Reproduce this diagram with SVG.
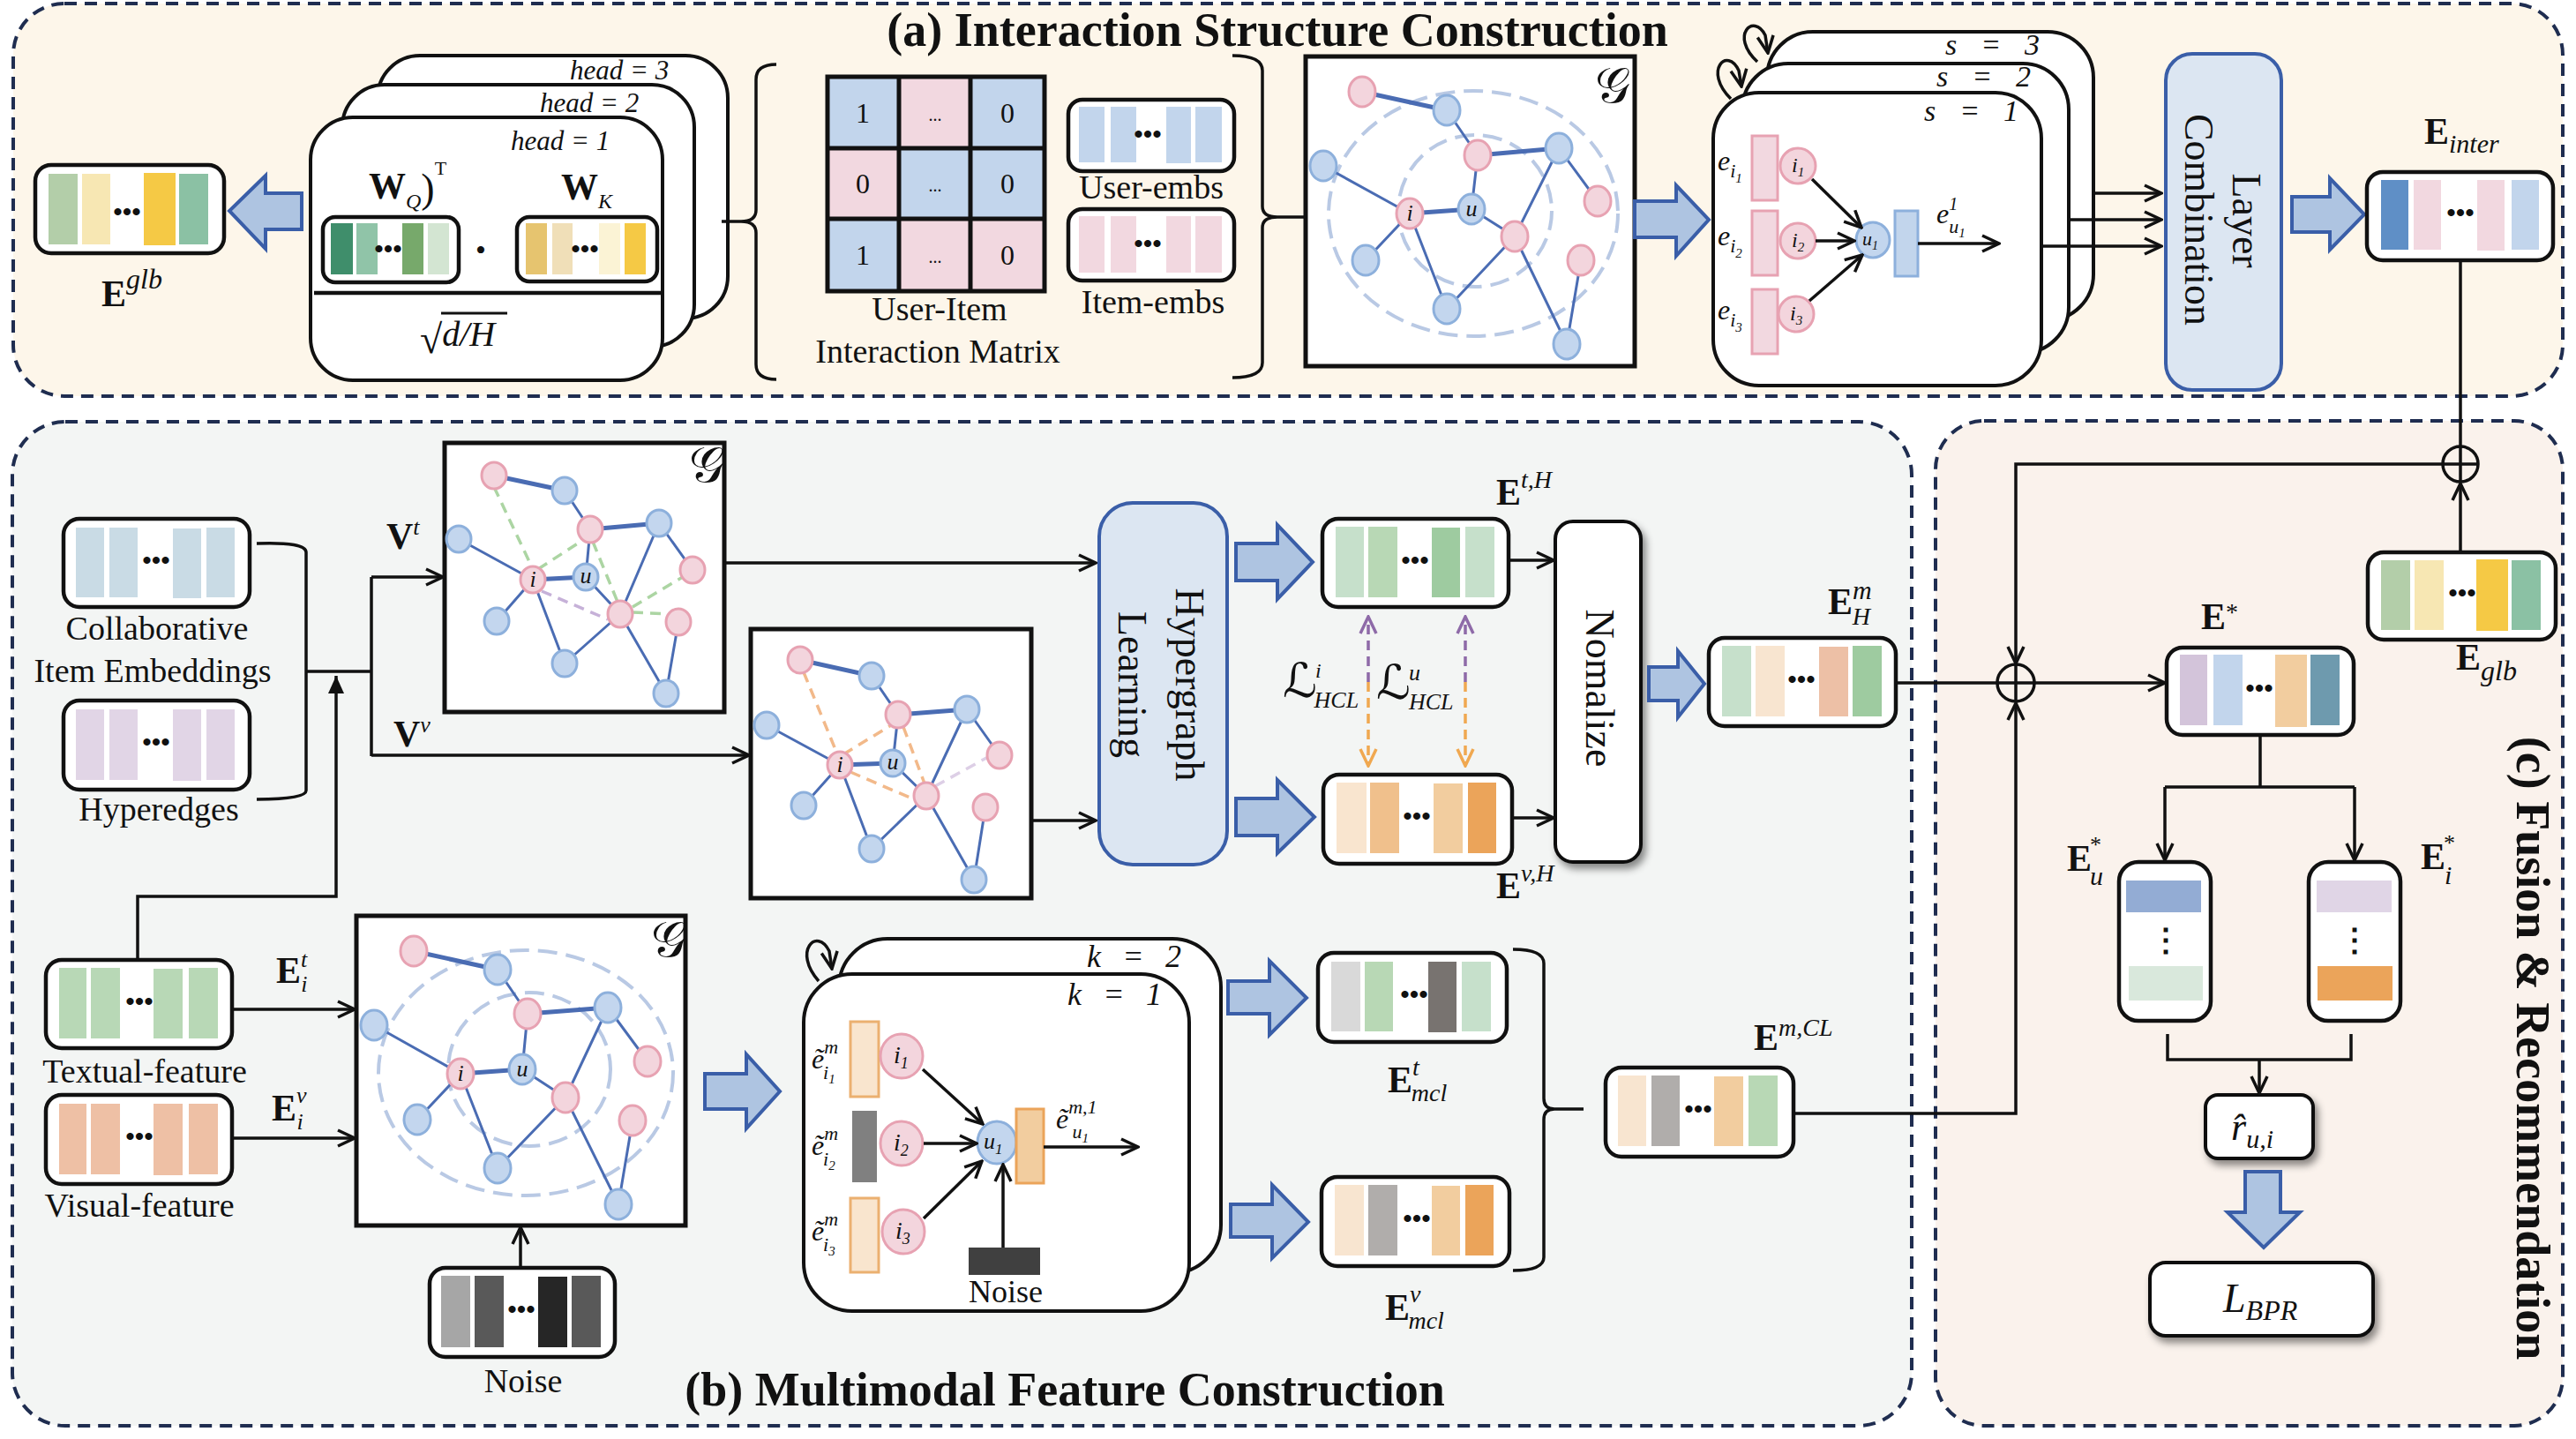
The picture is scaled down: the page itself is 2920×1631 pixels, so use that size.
<svg xmlns="http://www.w3.org/2000/svg" width="2920" height="1631" viewBox="0 0 2920 1631">
<style>
.pa{fill:#fdf6ea;stroke:#1f2d50;stroke-width:4;stroke-dasharray:14 9}
.pb{fill:#f3f5f4;stroke:#1f2d50;stroke-width:4;stroke-dasharray:14 9}
.pc{fill:#faf2ec;stroke:#1f2d50;stroke-width:4;stroke-dasharray:14 9}
.box{fill:#fff;stroke:#111;stroke-width:4.5}
.sbox{fill:#fff;stroke:#111;stroke-width:4}
.gbox{fill:#fff;stroke:#111;stroke-width:5}
.blue{fill:#dce6f2;stroke:#3a5ea8;stroke-width:4}
.big{fill:#aec4e1;stroke:#3a5ea8;stroke-width:4}
.ln{fill:none;stroke:#111;stroke-width:3.5}
.pn{fill:#f3d5dd;stroke:#e7a2b2;stroke-width:3}
.bn{fill:#c3d6ee;stroke:#8db0dc;stroke-width:3}
.ge{fill:none;stroke:#4a6cb3;stroke-width:3}
.gt{fill:none;stroke:#4a6cb3;stroke-width:5}
.gc{fill:none;stroke:#b9c9e4;stroke-width:4;stroke-dasharray:22 10}
.dg{fill:none;stroke:#acd5a3;stroke-width:3.5;stroke-dasharray:12 8}
.dp{fill:none;stroke:#c6b1d8;stroke-width:3.5;stroke-dasharray:12 8}
.do{fill:none;stroke:#f2b98a;stroke-width:3.5;stroke-dasharray:12 8}
.dl{fill:none;stroke:#ddcfe6;stroke-width:3.5;stroke-dasharray:12 8}
text{font-family:"Liberation Serif","Times New Roman",serif;fill:#111}
.title{font-size:54px;font-weight:bold}
.lbl{font-size:38px}
.it{font-style:italic}
.E{font-size:42px;font-weight:bold}
.dots{font-size:30px;font-weight:bold}
.rot{font-size:46px}
.nl{font-size:26px;font-style:italic}
.cal{font-family:"DejaVu Sans","DejaVu Serif",serif;font-size:56px}
.scr{font-family:"DejaVu Sans","DejaVu Serif",serif;font-size:54px}
</style>
<defs>
<marker id="ah" viewBox="0 0 24 24" refX="22" refY="12" markerWidth="24" markerHeight="24" markerUnits="userSpaceOnUse" orient="auto"><path d="M3,3 L22,12 L3,21" fill="none" stroke="#111" stroke-width="3.5"/></marker>
<marker id="ahf" viewBox="0 0 24 24" refX="22" refY="12" markerWidth="24" markerHeight="24" markerUnits="userSpaceOnUse" orient="auto"><path d="M2,3 L22,12 L2,21 Z" fill="#111"/></marker>
<marker id="ahp" viewBox="0 0 24 24" refX="22" refY="12" markerWidth="24" markerHeight="24" markerUnits="userSpaceOnUse" orient="auto"><path d="M3,3 L22,12 L3,21" fill="none" stroke="#8e6aa8" stroke-width="3.5"/></marker>
<marker id="aho" viewBox="0 0 24 24" refX="22" refY="12" markerWidth="24" markerHeight="24" markerUnits="userSpaceOnUse" orient="auto"><path d="M3,3 L22,12 L3,21" fill="none" stroke="#f0a850" stroke-width="3.5"/></marker>
<filter id="sh" x="-20%" y="-20%" width="150%" height="150%"><feDropShadow dx="4" dy="6" stdDeviation="4" flood-color="#000" flood-opacity="0.45"/></filter>
</defs>

<!-- panels -->
<g id="panels">
<rect class="pa" x="15" y="4" width="2890" height="445" rx="58"/>
<rect class="pb" x="14" y="478" width="2153" height="1138" rx="60"/>
<rect class="pc" x="2194" y="477" width="711" height="1139" rx="55"/>
<text class="title" x="1448" y="52" text-anchor="middle">(a) Interaction Structure Construction</text>
<text class="title" x="1207" y="1593" text-anchor="middle">(b) Multimodal Feature Construction</text>
<text class="title" transform="translate(2853,1188) rotate(90)" text-anchor="middle">(c) Fusion &amp; Recommendation</text>
</g>

<!-- ===== (a) ===== -->
<g id="E-glb-a">
<rect class="box" x="40" y="187" width="214" height="100" rx="18"/>
<rect x="55" y="197" width="33" height="80" fill="#b3cea9"/>
<rect x="93" y="197" width="32" height="80" fill="#f7e7b3"/>
<text class="dots" x="144" y="250" text-anchor="middle">•••</text>
<rect x="163" y="196" width="36" height="82" fill="#f5c945"/>
<rect x="203" y="197" width="33" height="80" fill="#8bc1a4"/>
<text class="E" x="115" y="347">E<tspan class="it" font-weight="normal" font-size="32" dy="-20">glb</tspan></text>
</g>
<path id="arrow-a1" class="big" d="M342,219 L301,219 L301,199 L260,239 L301,282 L301,260 L342,260 Z"/>

<g id="attention-heads">
<rect class="sbox" x="428" y="63" width="397" height="298" rx="48"/>
<rect class="sbox" x="388" y="96" width="399" height="297" rx="48"/>
<rect class="sbox" x="352" y="133" width="399" height="298" rx="48"/>
<text class="it" x="646" y="90" font-size="31">head = 3</text>
<text class="it" x="612" y="127" font-size="31">head = 2</text>
<text class="it" x="579" y="170" font-size="31">head = 1</text>
<text class="E" x="418" y="225" font-size="40">W<tspan class="it" font-weight="normal" font-size="24" dy="11">Q</tspan><tspan font-weight="normal" font-size="46" dy="-7">)</tspan><tspan font-weight="normal" font-size="22" dy="-31">T</tspan></text>
<text class="E" x="636" y="226" font-size="40">W<tspan class="it" font-weight="normal" font-size="24" dy="10">K</tspan></text>
<rect class="box" x="366" y="246" width="154" height="74" rx="14"/>
<rect x="375" y="253" width="25" height="58" fill="#3f8e6b"/>
<rect x="404" y="253" width="24" height="58" fill="#90c4a8"/>
<text class="dots" x="440" y="292" text-anchor="middle" font-size="24">•••</text>
<rect x="456" y="253" width="24" height="58" fill="#77a96b"/>
<rect x="485" y="253" width="24" height="58" fill="#d3e5d2"/>
<text x="545" y="295" font-size="34" text-anchor="middle">•</text>
<rect class="box" x="586" y="246" width="159" height="73" rx="14"/>
<rect x="596" y="253" width="24" height="58" fill="#e6c46f"/>
<rect x="626" y="253" width="23" height="58" fill="#f0dfb8"/>
<text class="dots" x="663" y="292" text-anchor="middle" font-size="24">•••</text>
<rect x="679" y="253" width="24" height="58" fill="#fbf3d5"/>
<rect x="708" y="253" width="24" height="58" fill="#f5c945"/>
<line x1="356" y1="332" x2="749" y2="332" stroke="#111" stroke-width="4.5"/>
<text x="476" y="400" font-size="46">√<tspan class="it" font-size="40" dy="-8">d/H</tspan></text>
<line x1="500" y1="355" x2="575" y2="355" stroke="#111" stroke-width="3"/>
</g>

<g id="interaction-matrix">
<rect x="938" y="87" width="81" height="81" fill="#c2d5ec"/>
<rect x="1019" y="87" width="81" height="81" fill="#f2d8e0"/>
<rect x="1100" y="87" width="84" height="81" fill="#c2d5ec"/>
<rect x="938" y="168" width="81" height="80" fill="#f2d8e0"/>
<rect x="1019" y="168" width="81" height="80" fill="#c2d5ec"/>
<rect x="1100" y="168" width="84" height="80" fill="#c2d5ec"/>
<rect x="938" y="248" width="81" height="82" fill="#c2d5ec"/>
<rect x="1019" y="248" width="81" height="82" fill="#f2d8e0"/>
<rect x="1100" y="248" width="84" height="82" fill="#f2d8e0"/>
<path d="M938,87 H1184 V330 H938 Z M1019,87 V330 M1100,87 V330 M938,168 H1184 M938,248 H1184" fill="none" stroke="#111" stroke-width="5"/>
<g font-size="32" text-anchor="middle">
<text x="978" y="139">1</text><text x="1060" y="137" font-size="20">...</text><text x="1142" y="139">0</text>
<text x="978" y="219">0</text><text x="1060" y="217" font-size="20">...</text><text x="1142" y="219">0</text>
<text x="978" y="300">1</text><text x="1060" y="298" font-size="20">...</text><text x="1142" y="300">0</text>
</g>
<text class="lbl" x="1065" y="363" text-anchor="middle">User-Item</text>
<text class="lbl" x="1063" y="411" text-anchor="middle">Interaction Matrix</text>
</g>

<g id="user-embs">
<rect class="box" x="1211" y="113" width="188" height="81" rx="16"/>
<rect x="1223" y="121" width="29" height="63" fill="#c2d5ec"/>
<rect x="1259" y="121" width="29" height="63" fill="#c2d5ec"/>
<text class="dots" x="1301" y="162" text-anchor="middle" font-size="24">•••</text>
<rect x="1322" y="121" width="28" height="64" fill="#c2d5ec"/>
<rect x="1355" y="121" width="30" height="63" fill="#c2d5ec"/>
<text class="lbl" x="1305" y="225" text-anchor="middle">User-embs</text>
</g>
<g id="item-embs">
<rect class="box" x="1211" y="237" width="188" height="81" rx="16"/>
<rect x="1223" y="245" width="29" height="64" fill="#f2d8e0"/>
<rect x="1259" y="245" width="29" height="64" fill="#f2d8e0"/>
<text class="dots" x="1301" y="286" text-anchor="middle" font-size="24">•••</text>
<rect x="1322" y="245" width="28" height="64" fill="#f2d8e0"/>
<rect x="1355" y="245" width="30" height="64" fill="#f2d8e0"/>
<text class="lbl" x="1307" y="355" text-anchor="middle">Item-embs</text>
</g>

<g id="graph-a">
<rect class="gbox" x="1480" y="64" width="373" height="351"/>
<ellipse class="gc" cx="1670" cy="242" rx="164" ry="139"/>
<ellipse class="gc" cx="1672" cy="239" rx="87" ry="86"/>
<path class="ge" d="M1640,125 L1675,176 M1675,176 L1668,237 M1500,188 L1598,242 M1668,237 L1717,268 M1598,242 L1548,295 M1598,242 L1640,350 M1640,350 L1717,268 M1717,268 L1767,168 M1767,168 L1811,228 M1717,268 L1776,390 M1792,295 L1776,390"/>
<path class="gt" d="M1544,104 L1640,125 M1675,176 L1767,168 M1598,242 L1668,237"/>
<ellipse class="pn" cx="1544" cy="104" rx="15" ry="17"/>
<ellipse class="bn" cx="1640" cy="125" rx="15" ry="17"/>
<ellipse class="pn" cx="1675" cy="176" rx="15" ry="17"/>
<ellipse class="bn" cx="1767" cy="168" rx="15" ry="17"/>
<ellipse class="bn" cx="1500" cy="188" rx="15" ry="17"/>
<ellipse class="pn" cx="1811" cy="228" rx="15" ry="17"/>
<ellipse class="pn" cx="1598" cy="242" rx="15" ry="17"/>
<ellipse class="bn" cx="1668" cy="237" rx="15" ry="17"/>
<ellipse class="pn" cx="1717" cy="268" rx="15" ry="17"/>
<ellipse class="bn" cx="1548" cy="295" rx="15" ry="17"/>
<ellipse class="pn" cx="1792" cy="295" rx="15" ry="17"/>
<ellipse class="bn" cx="1640" cy="350" rx="15" ry="17"/>
<ellipse class="bn" cx="1776" cy="390" rx="15" ry="17"/>
<text class="nl" x="1598" y="250" text-anchor="middle">i</text>
<text class="nl" x="1668" y="245" text-anchor="middle">u</text>
<text class="cal" x="1808" y="116" font-size="50">𝒢</text>
</g>
<path id="arrow-a2" class="big" d="M1853,228 L1900,228 L1900,210 L1937,249 L1900,290 L1900,269 L1853,269 Z"/>

<g id="propagation-layers">
<rect class="sbox" x="2003" y="36" width="370" height="327" rx="52"/>
<rect class="sbox" x="1975" y="72" width="370" height="328" rx="52"/>
<rect class="sbox" x="1942" y="105" width="372" height="332" rx="52"/>
<text class="it" x="2205" y="62" font-size="34" textLength="107">s = 3</text>
<text class="it" x="2195" y="98" font-size="34" textLength="107">s = 2</text>
<text class="it" x="2181" y="137" font-size="34" textLength="107">s = 1</text>
<rect x="1986" y="154" width="29" height="73" fill="#f2d8e0" stroke="#e7a2b2" stroke-width="3"/>
<rect x="1986" y="239" width="29" height="73" fill="#f2d8e0" stroke="#e7a2b2" stroke-width="3"/>
<rect x="1986" y="328" width="29" height="73" fill="#f2d8e0" stroke="#e7a2b2" stroke-width="3"/>
<ellipse class="pn" cx="2038" cy="188" rx="20" ry="20"/>
<ellipse class="pn" cx="2038" cy="273" rx="20" ry="20"/>
<ellipse class="pn" cx="2036" cy="356" rx="20" ry="20"/>
<ellipse class="bn" cx="2123" cy="272" rx="19" ry="20"/>
<rect x="2148" y="239" width="26" height="74" fill="#c2d5ec" stroke="#8db0dc" stroke-width="3"/>
<text class="it" x="2031" y="195" font-size="24">i<tspan font-size="15" dy="5">1</tspan></text>
<text class="it" x="2031" y="280" font-size="24">i<tspan font-size="15" dy="5">2</tspan></text>
<text class="it" x="2029" y="363" font-size="24">i<tspan font-size="15" dy="5">3</tspan></text>
<text class="it" x="2111" y="278" font-size="22">u<tspan font-size="14" dy="5">1</tspan></text>
<text class="it" x="1947" y="193" font-size="32">e<tspan font-size="22" dy="8">i</tspan><tspan font-size="15" dy="6">1</tspan></text>
<text class="it" x="1947" y="278" font-size="32">e<tspan font-size="22" dy="8">i</tspan><tspan font-size="15" dy="6">2</tspan></text>
<text class="it" x="1947" y="362" font-size="32">e<tspan font-size="22" dy="8">i</tspan><tspan font-size="15" dy="6">3</tspan></text>
<text class="it" x="2195" y="253" font-size="32">e<tspan font-size="20" dy="-15">1</tspan><tspan font-size="22" dx="-10" dy="26">u</tspan><tspan font-size="15" dy="5">1</tspan></text>
</g>

<g id="layer-combination">
<rect class="blue" x="2455" y="61" width="131" height="381" rx="30"/>
<text class="rot" transform="translate(2531,250) rotate(90)" text-anchor="middle">Layer</text>
<text class="rot" transform="translate(2477,249) rotate(90)" text-anchor="middle">Combination</text>
</g>
<path id="arrow-a3" class="big" d="M2598,223 L2641,223 L2641,202 L2680,243 L2641,283 L2641,263 L2598,263 Z"/>

<g id="E-inter">
<rect class="box" x="2683" y="195" width="211" height="100" rx="18"/>
<rect x="2699" y="204" width="31" height="79" fill="#5f8fc6"/>
<rect x="2736" y="204" width="31" height="79" fill="#f2d8e0"/>
<text class="dots" x="2789" y="251" text-anchor="middle">•••</text>
<rect x="2808" y="204" width="31" height="80" fill="#f2d8e0"/>
<rect x="2847" y="204" width="31" height="79" fill="#c2d5ec"/>
<text class="E" x="2748" y="163">E<tspan class="it" font-weight="normal" font-size="30" dy="10">inter</tspan></text>
</g>

<!-- ===== (b) ===== -->
<g id="collab-emb">
<rect class="box" x="72" y="588" width="211" height="100" rx="18"/>
<rect x="86" y="598" width="32" height="79" fill="#c9dbe5"/>
<rect x="124" y="598" width="32" height="79" fill="#c9dbe5"/>
<text class="dots" x="177" y="645" text-anchor="middle">•••</text>
<rect x="196" y="599" width="32" height="79" fill="#c9dbe5"/>
<rect x="234" y="598" width="32" height="79" fill="#c9dbe5"/>
<text class="lbl" x="178" y="725" text-anchor="middle">Collaborative</text>
<text class="lbl" x="173" y="773" text-anchor="middle">Item Embeddings</text>
</g>
<g id="hyperedges">
<rect class="box" x="72" y="794" width="211" height="101" rx="18"/>
<rect x="86" y="804" width="32" height="80" fill="#e1d5e6"/>
<rect x="124" y="804" width="32" height="80" fill="#e1d5e6"/>
<text class="dots" x="177" y="851" text-anchor="middle">•••</text>
<rect x="196" y="804" width="32" height="81" fill="#e1d5e6"/>
<rect x="234" y="804" width="32" height="80" fill="#e1d5e6"/>
<text class="lbl" x="180" y="930" text-anchor="middle">Hyperedges</text>
</g>

<g id="graph-bt">
<rect class="gbox" x="504" y="502" width="317" height="305"/>
<path class="ge" d="M640,556 L669,600 M669,600 L664,654 M520,611 L604,657 M664,654 L703,696 M604,657 L563,704 M604,657 L640,752 M640,752 L703,696 M703,696 L747,593 M747,593 L785,646 M703,696 L755,786 M769,705 L755,786"/>
<path class="gt" d="M560,539 L640,556 M669,600 L747,593 M604,657 L664,654"/>
<path class="dg" d="M560,552 L604,645 M610,645 L661,612 M672,614 L700,682 M717,688 L777,652 M717,694 L757,696"/>
<path class="dp" d="M614,670 L689,702"/>
<ellipse class="pn" cx="560" cy="539" rx="14" ry="15"/>
<ellipse class="bn" cx="640" cy="556" rx="14" ry="15"/>
<ellipse class="pn" cx="669" cy="600" rx="14" ry="15"/>
<ellipse class="bn" cx="747" cy="593" rx="14" ry="15"/>
<ellipse class="bn" cx="520" cy="611" rx="14" ry="15"/>
<ellipse class="pn" cx="785" cy="646" rx="14" ry="15"/>
<ellipse class="pn" cx="604" cy="657" rx="14" ry="15"/>
<ellipse class="bn" cx="664" cy="654" rx="14" ry="15"/>
<ellipse class="pn" cx="703" cy="696" rx="14" ry="15"/>
<ellipse class="bn" cx="563" cy="704" rx="14" ry="15"/>
<ellipse class="pn" cx="769" cy="705" rx="14" ry="15"/>
<ellipse class="bn" cx="640" cy="752" rx="14" ry="15"/>
<ellipse class="bn" cx="755" cy="786" rx="14" ry="15"/>
<text class="nl" x="604" y="665" text-anchor="middle" font-size="22">i</text>
<text class="nl" x="664" y="661" text-anchor="middle" font-size="22">u</text>
<text class="cal" x="781" y="546" font-size="54">𝒢</text>
</g>

<g id="graph-bb">
<rect class="gbox" x="851" y="713" width="318" height="305"/>
<path class="ge" d="M988,766 L1018,810 M1018,810 L1012,865 M869,822 L952,867 M1012,865 L1050,902 M952,867 L911,913 M952,867 L988,962 M988,962 L1050,902 M1050,902 L1096,804 M1096,804 L1133,856 M1050,902 L1104,997 M1117,915 L1104,997"/>
<path class="gt" d="M907,748 L988,766 M1018,810 L1096,804 M952,867 L1012,865"/>
<path class="do" d="M911,762 L948,852 M956,855 L1010,822 M1024,824 L1048,888 M964,875 L1036,906"/>
<path class="dl" d="M1060,891 L1120,858"/>
<ellipse class="pn" cx="907" cy="748" rx="14" ry="15"/>
<ellipse class="bn" cx="988" cy="766" rx="14" ry="15"/>
<ellipse class="pn" cx="1018" cy="810" rx="14" ry="15"/>
<ellipse class="bn" cx="1096" cy="804" rx="14" ry="15"/>
<ellipse class="bn" cx="869" cy="822" rx="14" ry="15"/>
<ellipse class="pn" cx="1133" cy="856" rx="14" ry="15"/>
<ellipse class="pn" cx="952" cy="867" rx="14" ry="15"/>
<ellipse class="bn" cx="1012" cy="865" rx="14" ry="15"/>
<ellipse class="pn" cx="1050" cy="902" rx="14" ry="15"/>
<ellipse class="bn" cx="911" cy="913" rx="14" ry="15"/>
<ellipse class="pn" cx="1117" cy="915" rx="14" ry="15"/>
<ellipse class="bn" cx="988" cy="962" rx="14" ry="15"/>
<ellipse class="bn" cx="1104" cy="997" rx="14" ry="15"/>
<text class="nl" x="952" y="875" text-anchor="middle" font-size="22">i</text>
<text class="nl" x="1012" y="872" text-anchor="middle" font-size="22">u</text>
</g>

<g id="hypergraph-learning">
<rect class="blue" x="1246" y="570" width="145" height="410" rx="38"/>
<text class="rot" transform="translate(1333,776) rotate(90)" text-anchor="middle">Hypergraph</text>
<text class="rot" transform="translate(1268,776) rotate(90)" text-anchor="middle">Learning</text>
</g>
<path id="arrow-b1" class="big" d="M1401,616 L1448,616 L1448,595 L1488,637 L1448,679 L1448,658 L1401,658 Z"/>
<path id="arrow-b2" class="big" d="M1401,905 L1448,905 L1448,884 L1490,926 L1448,967 L1448,947 L1401,947 Z"/>

<g id="E-tH">
<rect class="box" x="1499" y="588" width="211" height="100" rx="18"/>
<rect x="1514" y="597" width="32" height="80" fill="#c6e0cb"/>
<rect x="1551" y="597" width="33" height="80" fill="#b8d8b5"/>
<text class="dots" x="1604" y="645" text-anchor="middle">•••</text>
<rect x="1623" y="598" width="32" height="79" fill="#9ecba0"/>
<rect x="1661" y="597" width="33" height="80" fill="#c6e0cb"/>
<text class="E" x="1696" y="572">E<tspan class="it" font-weight="normal" font-size="28" dy="-19">t,H</tspan></text>
</g>
<g id="E-vH">
<rect class="box" x="1500" y="878" width="214" height="101" rx="18"/>
<rect x="1515" y="887" width="34" height="80" fill="#f9e5cf"/>
<rect x="1553" y="887" width="33" height="80" fill="#f0c08c"/>
<text class="dots" x="1606" y="935" text-anchor="middle">•••</text>
<rect x="1625" y="888" width="33" height="79" fill="#f2cd9f"/>
<rect x="1664" y="887" width="32" height="80" fill="#eba45a"/>
<text class="E" x="1696" y="1018">E<tspan class="it" font-weight="normal" font-size="28" dy="-19">v,H</tspan></text>
</g>
<g id="hcl-labels">
<text x="1454" y="790"><tspan class="scr">ℒ</tspan><tspan class="it" font-size="24" dx="-2" dy="-22">i</tspan><tspan class="it" font-size="26" dx="-8" dy="34">HCL</tspan></text>
<text x="1560" y="792"><tspan class="scr">ℒ</tspan><tspan class="it" font-size="26" dx="-2" dy="-21">u</tspan><tspan class="it" font-size="26" dx="-13" dy="33">HCL</tspan></text>
</g>

<g id="nomalize">
<rect x="1763" y="591" width="97" height="386" rx="20" fill="#fff" stroke="#111" stroke-width="4" filter="url(#sh)"/>
<text class="rot" transform="translate(1798,780) rotate(90)" text-anchor="middle">Nomalize</text>
</g>
<path id="arrow-b3" class="big" d="M1869,756 L1902,756 L1902,738 L1932,775 L1902,813 L1902,794 L1869,794 Z"/>

<g id="E-mH">
<rect class="box" x="1937" y="723" width="212" height="100" rx="18"/>
<rect x="1952" y="732" width="33" height="80" fill="#c6e0cb"/>
<rect x="1990" y="732" width="33" height="80" fill="#f8e5d0"/>
<text class="dots" x="2042" y="780" text-anchor="middle">•••</text>
<rect x="2062" y="733" width="33" height="79" fill="#edc0a6"/>
<rect x="2100" y="732" width="33" height="80" fill="#9ecba0"/>
<text class="E" x="2072" y="696">E<tspan class="it" font-weight="normal" font-size="30" dy="-17">m</tspan><tspan class="it" font-weight="normal" font-size="28" dx="-22" dy="29">H</tspan></text>
</g>

<g id="textual-feature">
<rect class="box" x="52" y="1088" width="211" height="100" rx="18"/>
<rect x="67" y="1097" width="31" height="80" fill="#b8d8b6"/>
<rect x="103" y="1097" width="33" height="80" fill="#b8d8b6"/>
<text class="dots" x="158" y="1145" text-anchor="middle">•••</text>
<rect x="174" y="1098" width="33" height="79" fill="#b8d8b6"/>
<rect x="214" y="1097" width="33" height="80" fill="#b8d8b6"/>
<text class="lbl" x="164" y="1227" text-anchor="middle">Textual-feature</text>
<text class="E" x="313" y="1114">E<tspan class="it" font-weight="normal" font-size="26" dy="-18">t</tspan><tspan class="it" font-weight="normal" font-size="26" dx="-7" dy="28">i</tspan></text>
</g>
<g id="visual-feature">
<rect class="box" x="52" y="1241" width="211" height="101" rx="18"/>
<rect x="67" y="1251" width="31" height="80" fill="#eec0a5"/>
<rect x="103" y="1251" width="33" height="80" fill="#eec0a5"/>
<text class="dots" x="158" y="1298" text-anchor="middle">•••</text>
<rect x="174" y="1251" width="33" height="81" fill="#eec0a5"/>
<rect x="214" y="1251" width="33" height="80" fill="#eec0a5"/>
<text class="lbl" x="158" y="1379" text-anchor="middle">Visual-feature</text>
<text class="E" x="308" y="1270">E<tspan class="it" font-weight="normal" font-size="26" dy="-20">v</tspan><tspan class="it" font-weight="normal" font-size="26" dx="-11" dy="30">i</tspan></text>
</g>

<g id="graph-bl">
<rect class="gbox" x="404" y="1038" width="373" height="351"/>
<ellipse class="gc" cx="596" cy="1216" rx="167" ry="139"/>
<ellipse class="gc" cx="600" cy="1212" rx="92" ry="87"/>
<path class="ge" d="M564,1099 L598,1149 M598,1149 L592,1212 M424,1162 L522,1217 M592,1212 L641,1244 M522,1217 L473,1269 M522,1217 L564,1324 M564,1324 L641,1244 M641,1244 L689,1142 M689,1142 L734,1203 M641,1244 L701,1365 M717,1270 L701,1365"/>
<path class="gt" d="M469,1078 L564,1099 M598,1149 L689,1142 M522,1217 L592,1212"/>
<ellipse class="pn" cx="469" cy="1078" rx="15" ry="17"/>
<ellipse class="bn" cx="564" cy="1099" rx="15" ry="17"/>
<ellipse class="pn" cx="598" cy="1149" rx="15" ry="17"/>
<ellipse class="bn" cx="689" cy="1142" rx="15" ry="17"/>
<ellipse class="bn" cx="424" cy="1162" rx="15" ry="17"/>
<ellipse class="pn" cx="734" cy="1203" rx="15" ry="17"/>
<ellipse class="pn" cx="522" cy="1217" rx="15" ry="17"/>
<ellipse class="bn" cx="592" cy="1212" rx="15" ry="17"/>
<ellipse class="pn" cx="641" cy="1244" rx="15" ry="17"/>
<ellipse class="bn" cx="473" cy="1269" rx="15" ry="17"/>
<ellipse class="pn" cx="717" cy="1270" rx="15" ry="17"/>
<ellipse class="bn" cx="564" cy="1324" rx="15" ry="17"/>
<ellipse class="bn" cx="701" cy="1365" rx="15" ry="17"/>
<text class="nl" x="522" y="1225" text-anchor="middle">i</text>
<text class="nl" x="592" y="1220" text-anchor="middle">u</text>
<text class="cal" x="738" y="1084" font-size="54">𝒢</text>
</g>

<g id="noise">
<rect class="box" x="487" y="1437" width="210" height="101" rx="18"/>
<rect x="500" y="1446" width="33" height="81" fill="#a6a6a6"/>
<rect x="538" y="1446" width="33" height="81" fill="#595959"/>
<text class="dots" x="591" y="1494" text-anchor="middle">•••</text>
<rect x="610" y="1447" width="33" height="80" fill="#262626"/>
<rect x="648" y="1446" width="33" height="81" fill="#595959"/>
<text class="lbl" x="593" y="1578" text-anchor="middle">Noise</text>
</g>
<path id="arrow-b4" class="big" d="M799,1217 L846,1217 L846,1195 L884,1237 L846,1279 L846,1257 L799,1257 Z"/>

<g id="contrastive-layers">
<rect class="sbox" x="951" y="1064" width="433" height="379" rx="55"/>
<rect class="sbox" x="911" y="1104" width="437" height="382" rx="55"/>
<text class="it" x="1232" y="1096" font-size="36" textLength="107">k = 2</text>
<text class="it" x="1210" y="1139" font-size="36" textLength="107">k = 1</text>
<rect x="964" y="1158" width="32" height="85" fill="#f9e5ce" stroke="#ebb070" stroke-width="3"/>
<rect x="966" y="1259" width="28" height="81" fill="#808080"/>
<rect x="964" y="1358" width="32" height="84" fill="#f9e5ce" stroke="#ebb070" stroke-width="3"/>
<ellipse class="pn" cx="1022" cy="1197" rx="24" ry="25"/>
<ellipse class="pn" cx="1022" cy="1296" rx="24" ry="25"/>
<ellipse class="pn" cx="1024" cy="1396" rx="24" ry="25"/>
<ellipse class="bn" cx="1130" cy="1295" rx="22" ry="24"/>
<rect x="1152" y="1257" width="31" height="84" fill="#f2cd9f" stroke="#eba45a" stroke-width="3"/>
<rect x="1098" y="1414" width="81" height="31" fill="#404040"/>
<text x="1140" y="1476" font-size="36" text-anchor="middle">Noise</text>
<text class="it" x="1013" y="1205" font-size="28">i<tspan font-size="18" dy="6">1</tspan></text>
<text class="it" x="1013" y="1304" font-size="28">i<tspan font-size="18" dy="6">2</tspan></text>
<text class="it" x="1015" y="1404" font-size="28">i<tspan font-size="18" dy="6">3</tspan></text>
<text class="it" x="1115" y="1302" font-size="26">u<tspan font-size="17" dy="6">1</tspan></text>
<text class="it" x="920" y="1211" font-size="32">ẽ<tspan font-size="22" dy="-17">m</tspan><tspan font-size="22" dx="-17" dy="29">i</tspan><tspan font-size="15" dy="5">1</tspan></text>
<text class="it" x="920" y="1309" font-size="32">ẽ<tspan font-size="22" dy="-17">m</tspan><tspan font-size="22" dx="-17" dy="29">i</tspan><tspan font-size="15" dy="5">2</tspan></text>
<text class="it" x="920" y="1406" font-size="32">ẽ<tspan font-size="22" dy="-17">m</tspan><tspan font-size="22" dx="-17" dy="29">i</tspan><tspan font-size="15" dy="5">3</tspan></text>
<text class="it" x="1197" y="1279" font-size="32">ẽ<tspan font-size="22" dy="-17">m,1</tspan><tspan font-size="22" dx="-28" dy="28">u</tspan><tspan font-size="15" dy="5">1</tspan></text>
</g>
<path id="arrow-b5" class="big" d="M1392,1112 L1439,1112 L1439,1089 L1481,1131 L1439,1173 L1439,1149 L1392,1149 Z"/>
<path id="arrow-b6" class="big" d="M1395,1365 L1442,1365 L1442,1343 L1483,1385 L1442,1426 L1442,1402 L1395,1402 Z"/>

<g id="E-t-mcl">
<rect class="box" x="1494" y="1080" width="214" height="101" rx="18"/>
<rect x="1509" y="1090" width="33" height="79" fill="#d9d9d9"/>
<rect x="1547" y="1090" width="32" height="79" fill="#b8d8b5"/>
<text class="dots" x="1603" y="1137" text-anchor="middle">•••</text>
<rect x="1619" y="1090" width="32" height="80" fill="#787370"/>
<rect x="1657" y="1090" width="33" height="79" fill="#c6e0cb"/>
<text class="E" x="1573" y="1238">E<tspan class="it" font-weight="normal" font-size="28" dy="-19">t</tspan><tspan class="it" font-weight="normal" font-size="28" dx="-9" dy="29">mcl</tspan></text>
</g>
<g id="E-v-mcl">
<rect class="box" x="1498" y="1334" width="213" height="101" rx="18"/>
<rect x="1513" y="1343" width="33" height="80" fill="#f8e5d0"/>
<rect x="1551" y="1343" width="33" height="80" fill="#b0adab"/>
<text class="dots" x="1606" y="1391" text-anchor="middle">•••</text>
<rect x="1623" y="1344" width="32" height="79" fill="#f2cd9f"/>
<rect x="1661" y="1343" width="32" height="80" fill="#eba45a"/>
<text class="E" x="1570" y="1496">E<tspan class="it" font-weight="normal" font-size="28" dy="-20">v</tspan><tspan class="it" font-weight="normal" font-size="28" dx="-14" dy="30">mcl</tspan></text>
</g>
<g id="E-m-CL">
<rect class="box" x="1820" y="1210" width="213" height="101" rx="18"/>
<rect x="1834" y="1219" width="32" height="80" fill="#f8e5d0"/>
<rect x="1872" y="1219" width="32" height="80" fill="#b0adab"/>
<text class="dots" x="1925" y="1267" text-anchor="middle">•••</text>
<rect x="1943" y="1220" width="33" height="79" fill="#f2cd9f"/>
<rect x="1982" y="1219" width="33" height="80" fill="#b8d8b5"/>
<text class="E" x="1988" y="1190">E<tspan class="it" font-weight="normal" font-size="28" dy="-16">m,CL</tspan></text>
</g>

<!-- ===== (c) ===== -->
<g id="E-glb-c">
<rect class="box" x="2684" y="626" width="213" height="99" rx="18"/>
<rect x="2699" y="635" width="33" height="79" fill="#b3cea9"/>
<rect x="2737" y="635" width="33" height="79" fill="#f7e7b3"/>
<text class="dots" x="2791" y="682" text-anchor="middle">•••</text>
<rect x="2807" y="634" width="36" height="81" fill="#f5c945"/>
<rect x="2847" y="635" width="33" height="79" fill="#8bc1a4"/>
<text class="E" x="2784" y="759">E<tspan class="it" font-weight="normal" font-size="32" dy="12">glb</tspan></text>
</g>
<g id="E-star">
<rect class="box" x="2456" y="734" width="212" height="99" rx="18"/>
<rect x="2471" y="742" width="31" height="80" fill="#d3c4da"/>
<rect x="2509" y="742" width="33" height="80" fill="#c2d5ec"/>
<text class="dots" x="2561" y="790" text-anchor="middle">•••</text>
<rect x="2579" y="742" width="36" height="82" fill="#f2cd9f"/>
<rect x="2619" y="742" width="33" height="80" fill="#6e9aae"/>
<text class="E" x="2495" y="713">E<tspan font-weight="normal" font-size="28" dy="-10">*</tspan></text>
</g>
<g id="E-u-star">
<rect class="box" x="2402" y="977" width="104" height="180" rx="22"/>
<rect x="2410" y="998" width="85" height="36" fill="#93acd4"/>
<text x="2455" y="1078" font-size="36" font-weight="bold" text-anchor="middle" font-family="DejaVu Sans,sans-serif">⋮</text>
<rect x="2413" y="1095" width="84" height="39" fill="#d9e8dc"/>
<text class="E" x="2343" y="987">E</text>
<text x="2369" y="966" font-size="26">*</text>
<text class="it" x="2369" y="1003" font-size="30">u</text>
</g>
<g id="E-i-star">
<rect class="box" x="2617" y="977" width="104" height="180" rx="22"/>
<rect x="2626" y="998" width="85" height="36" fill="#e0d5e6"/>
<text x="2669" y="1078" font-size="36" font-weight="bold" text-anchor="middle" font-family="DejaVu Sans,sans-serif">⋮</text>
<rect x="2627" y="1095" width="85" height="39" fill="#eba45a"/>
<text class="E" x="2744" y="985">E</text>
<text x="2770" y="964" font-size="26">*</text>
<text class="it" x="2771" y="1002" font-size="30">i</text>
</g>
<g id="r-hat">
<rect x="2500" y="1241" width="122" height="72" rx="14" fill="#fff" stroke="#111" stroke-width="4" filter="url(#sh)"/>
<text class="it" x="2529" y="1292" font-size="44">r̂<tspan font-size="30" dy="9">u,i</tspan></text>
</g>
<path id="arrow-c1" class="big" d="M2545,1328 L2585,1328 L2585,1374 L2607,1374 L2566,1414 L2525,1374 L2545,1374 Z"/>
<g id="L-BPR">
<rect x="2437" y="1431" width="253" height="83" rx="18" fill="#fff" stroke="#111" stroke-width="4" filter="url(#sh)"/>
<text class="it" x="2520" y="1487" font-size="46">L<tspan font-size="32" dy="9">BPR</tspan></text>
</g>

<!-- ===== connectors ===== -->
<g id="connectors">
<path class="ln" d="M880,73 Q857,73 857,90 L857,238 Q857,251 840,251 Q857,251 857,264 L857,413 Q857,430 880,430 M840,251 L818,251"/>
<path class="ln" d="M1397,63 Q1431,63 1431,80 L1431,234 Q1431,246 1448,246 Q1431,246 1431,258 L1431,411 Q1431,428 1397,428 M1448,246 L1480,246"/>
<path class="ln" d="M1992,70 C1960,40 1988,14 2001,40 L2004,60" marker-end="url(#ah)"/>
<path class="ln" d="M1962,112 C1930,80 1958,52 1971,80 L1974,98" marker-end="url(#ah)"/>
<path class="ln" d="M928,1112 C898,1078 926,1050 940,1078 L943,1098" marker-end="url(#ah)"/>
<path class="ln" d="M2054,203 L2110,258" marker-end="url(#ah)"/>
<path class="ln" d="M2058,273 L2102,273" marker-end="url(#ah)"/>
<path class="ln" d="M2051,341 L2111,289" marker-end="url(#ah)"/>
<path class="ln" d="M2174,276 L2266,276" marker-end="url(#ah)"/>
<path class="ln" d="M2373,219 L2450,219" marker-end="url(#ah)"/>
<path class="ln" d="M2345,249 L2450,249" marker-end="url(#ah)"/>
<path class="ln" d="M2314,279 L2450,279" marker-end="url(#ah)"/>
<path class="ln" d="M291,616 Q347,614 347,626 L347,896 Q347,906 291,906 M347,761 L421,761 M421,654 L421,857"/>
<path class="ln" d="M421,654 L502,654" marker-end="url(#ah)"/>
<path class="ln" d="M421,856 L849,856" marker-end="url(#ah)"/>
<path class="ln" d="M156,1088 L156,1016 L381,1016 L381,766" marker-end="url(#ahf)"/>
<text class="E" x="438" y="622">V<tspan class="it" font-weight="normal" font-size="26" dy="-16">t</tspan></text>
<text class="E" x="446" y="846">V<tspan class="it" font-weight="normal" font-size="26" dy="-16">v</tspan></text>
<path class="ln" d="M821,638 L1242,638" marker-end="url(#ah)"/>
<path class="ln" d="M1169,930 L1242,930" marker-end="url(#ah)"/>
<path class="ln" d="M1710,635 L1761,635" marker-end="url(#ah)"/>
<path class="ln" d="M1714,927 L1761,927" marker-end="url(#ah)"/>
<path d="M1551,773 L1551,699" fill="none" stroke="#8e6aa8" stroke-width="3.5" stroke-dasharray="11 7" marker-end="url(#ahp)"/>
<path d="M1551,773 L1551,868" fill="none" stroke="#f0a850" stroke-width="3.5" stroke-dasharray="11 7" marker-end="url(#aho)"/>
<path d="M1661,773 L1661,699" fill="none" stroke="#8e6aa8" stroke-width="3.5" stroke-dasharray="11 7" marker-end="url(#ahp)"/>
<path d="M1661,773 L1661,868" fill="none" stroke="#f0a850" stroke-width="3.5" stroke-dasharray="11 7" marker-end="url(#aho)"/>
<path class="ln" d="M263,1144 L402,1144" marker-end="url(#ah)"/>
<path class="ln" d="M263,1290 L402,1290" marker-end="url(#ah)"/>
<path class="ln" d="M590,1437 L590,1391" marker-end="url(#ah)"/>
<path class="ln" d="M1046,1212 L1114,1274" marker-end="url(#ah)"/>
<path class="ln" d="M1047,1296 L1107,1296" marker-end="url(#ah)"/>
<path class="ln" d="M1047,1381 L1113,1316" marker-end="url(#ah)"/>
<path class="ln" d="M1137,1414 L1137,1320" marker-end="url(#ah)"/>
<path class="ln" d="M1183,1300 L1290,1300" marker-end="url(#ah)"/>
<path class="ln" d="M1715,1076 Q1750,1076 1750,1092 L1750,1245 Q1750,1257 1762,1257 Q1750,1257 1750,1269 L1750,1425 Q1750,1440 1715,1440 M1762,1257 L1795,1257"/>
<path class="ln" d="M2789,295 L2789,506"/>
<circle cx="2789" cy="526" r="20" fill="none" stroke="#111" stroke-width="3.5"/>
<path class="ln" d="M2789,506 L2789,546 M2769,526 L2809,526"/>
<path class="ln" d="M2789,626 L2789,548" marker-end="url(#ah)"/>
<path class="ln" d="M2769,526 L2285,526 L2285,752" marker-end="url(#ah)"/>
<circle cx="2285" cy="774" r="21" fill="none" stroke="#111" stroke-width="3.5"/>
<path class="ln" d="M2285,753 L2285,795 M2264,774 L2306,774"/>
<path class="ln" d="M2149,774 L2264,774"/>
<path class="ln" d="M2306,774 L2454,774" marker-end="url(#ah)"/>
<path class="ln" d="M2033,1262 L2285,1262 L2285,797" marker-end="url(#ah)"/>
<path class="ln" d="M2562,834 L2562,892 M2454,892 L2669,892"/>
<path class="ln" d="M2454,892 L2454,975" marker-end="url(#ah)"/>
<path class="ln" d="M2669,892 L2669,975" marker-end="url(#ah)"/>
<path class="ln" d="M2457,1172 L2457,1201 L2665,1201 L2665,1172"/>
<path class="ln" d="M2561,1201 L2561,1239" marker-end="url(#ah)"/>
</g>
</svg>
